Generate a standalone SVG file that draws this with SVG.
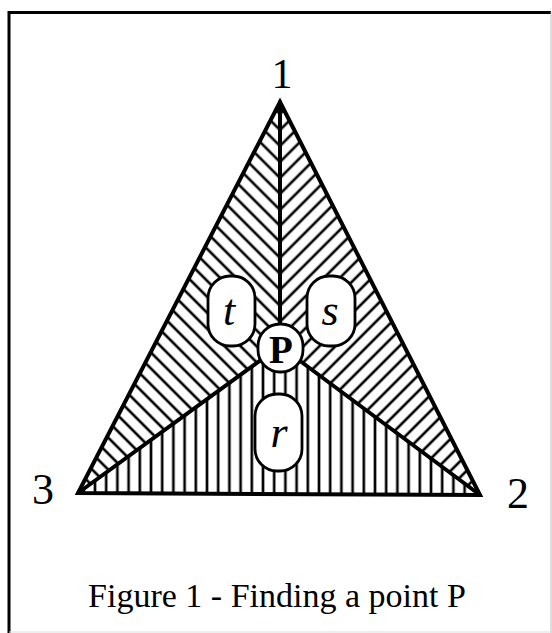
<svg xmlns="http://www.w3.org/2000/svg" width="552" height="633" viewBox="0 0 552 633">
  <style>
    .lbl { font-family: "Liberation Serif", "Times New Roman", serif; fill: #000; text-anchor: middle; }
    .ital { font-style: italic; }
    .oval { fill: #fff; stroke: #000; stroke-width: 2.8; }
    .edge { stroke: #000; stroke-width: 4; fill: none; stroke-linecap: round; stroke-linejoin: miter; }
  </style>
  <defs>
    <pattern id="hatchL" patternUnits="userSpaceOnUse" width="11.3" height="20" patternTransform="translate(280,130) rotate(-45)">
      <rect x="-1.3" y="0" width="2.6" height="20" fill="#000"/>
      <rect x="10" y="0" width="2.6" height="20" fill="#000"/>
    </pattern>
    <pattern id="hatchR" patternUnits="userSpaceOnUse" width="11.3" height="20" patternTransform="translate(280,130) rotate(45)">
      <rect x="-1.3" y="0" width="2.6" height="20" fill="#000"/>
      <rect x="10" y="0" width="2.6" height="20" fill="#000"/>
    </pattern>
    <pattern id="hatchV" patternUnits="userSpaceOnUse" width="11.2" height="20" patternTransform="translate(263,0)">
      <rect x="-1.3" y="0" width="2.6" height="20" fill="#000"/>
      <rect x="9.9" y="0" width="2.6" height="20" fill="#000"/>
    </pattern>
  </defs>

  <rect x="0" y="0" width="552" height="633" fill="#fff"/>

  <g id="frame">
    <line x1="9" y1="12.5" x2="551" y2="12.5" stroke="#000" stroke-width="3"/>
    <line x1="9" y1="11" x2="9" y2="633" stroke="#000" stroke-width="3"/>
    <line x1="551" y1="12" x2="551" y2="633" stroke="#bbb" stroke-width="1"/>
    <line x1="9" y1="632" x2="551" y2="632" stroke="#ddd" stroke-width="1"/>
  </g>

  <g id="regions">
    <polygon id="region-left" points="280,102 78,493 280,346" fill="url(#hatchL)"/>
    <polygon id="region-right" points="280,102 480,495 280,346" fill="url(#hatchR)"/>
    <polygon id="region-bottom" points="78,493 280,346 480,495" fill="url(#hatchV)"/>
  </g>

  <g id="connectors">
    <polygon class="edge" points="280,102 78,493 480,495"/>
    <line class="edge" x1="280" y1="102" x2="280" y2="346"/>
    <line class="edge" x1="78" y1="493" x2="280" y2="346"/>
    <line class="edge" x1="480" y1="495" x2="280" y2="346"/>
  </g>

  <g id="vertex-1"><text class="lbl" x="282" y="88" font-size="42">1</text></g>
  <g id="vertex-3"><text class="lbl" x="43" y="504" font-size="44">3</text></g>
  <g id="vertex-2"><text class="lbl" x="518" y="508" font-size="44">2</text></g>

  <g id="node-t">
    <rect class="oval" x="208" y="276" width="47" height="70" rx="22" ry="22"/>
    <text class="lbl ital" x="229" y="325" font-size="44">t</text>
  </g>
  <g id="node-s">
    <rect class="oval" x="307" y="276" width="48" height="70" rx="22" ry="22"/>
    <text class="lbl ital" x="330" y="325" font-size="44">s</text>
  </g>
  <g id="node-P">
    <rect class="oval" x="258" y="324" width="45" height="48" rx="22" ry="22"/>
    <text class="lbl" x="281" y="363" font-size="39" font-weight="bold">P</text>
  </g>
  <g id="node-r">
    <rect class="oval" x="255" y="394" width="47" height="77" rx="22" ry="22"/>
    <text class="lbl ital" x="279" y="447" font-size="44">r</text>
  </g>

  <g id="caption">
    <text class="lbl" x="277" y="607" font-size="34">Figure 1 - Finding a point P</text>
  </g>
</svg>
